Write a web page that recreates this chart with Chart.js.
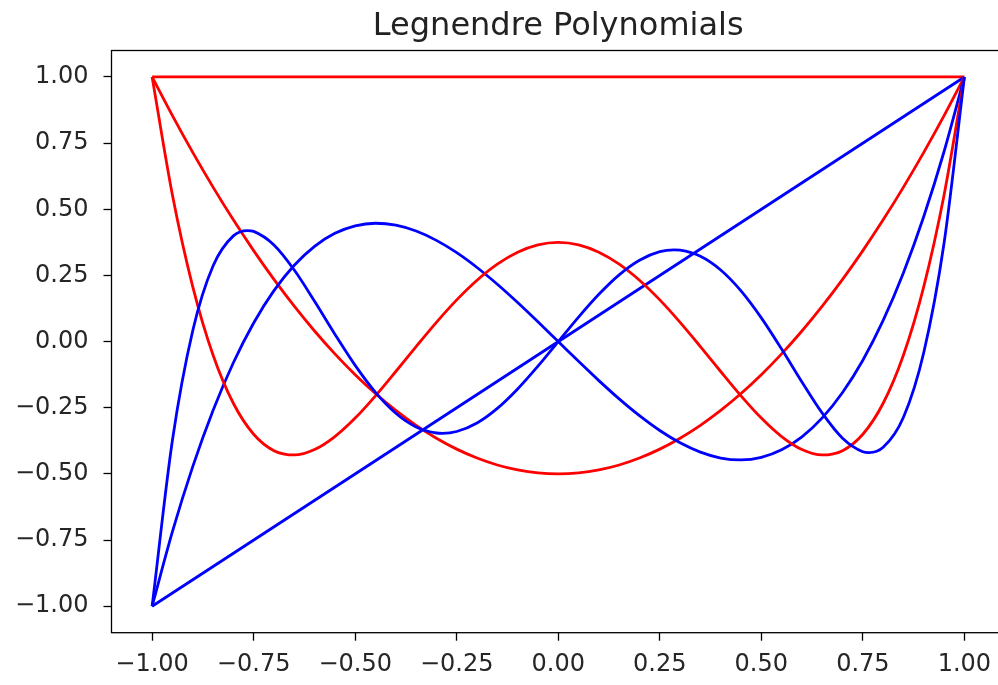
<!DOCTYPE html>
<html>
<head>
<meta charset="utf-8">
<script src="https://cdn.jsdelivr.net/npm/chart.js@4"></script>
<style>
  html, body { margin: 0; padding: 0; background: #fff; overflow: hidden; }
  #wrap { position: relative; width: 1010px; height: 685px; }
</style>
</head>
<body>
<div id="wrap"><canvas id="legendreChart"></canvas></div>
<script>
// x positions the curves were read at
const xValues = [-1.00, -0.95, -0.90, -0.85, -0.80, -0.75, -0.70, -0.65, -0.60, -0.55, -0.50,
    -0.45, -0.40, -0.35, -0.30, -0.25, -0.20, -0.15, -0.10, -0.05, 0.00,
    0.05, 0.10, 0.15, 0.20, 0.25, 0.30, 0.35, 0.40, 0.45, 0.50,
    0.55, 0.60, 0.65, 0.70, 0.75, 0.80, 0.85, 0.90, 0.95, 1.00];

// P5 also read at its turning points
const p5x = [-1.00, -0.95, -0.90, -0.85, -0.80, -0.765, -0.75, -0.70, -0.65, -0.60, -0.55, -0.50,
    -0.45, -0.40, -0.35, -0.30, -0.285, -0.25, -0.20, -0.15, -0.10, -0.05, 0.00,
    0.05, 0.10, 0.15, 0.20, 0.25, 0.285, 0.30, 0.35, 0.40, 0.45, 0.50,
    0.55, 0.60, 0.65, 0.70, 0.75, 0.765, 0.80, 0.85, 0.90, 0.95, 1.00];

const p0x = [-1, 1];
const p0 = [1, 1];
const p1x = [-1, 1];
const p1 = [-1, 1];

const p2 = [1, 0.8538, 0.715, 0.5838, 0.46, 0.3438, 0.235, 0.1338, 0.04, -0.0463, -0.125,
    -0.1963, -0.26, -0.3163, -0.365, -0.4063, -0.44, -0.4663, -0.485, -0.4963, -0.5,
    -0.4963, -0.485, -0.4663, -0.44, -0.4063, -0.365, -0.3163, -0.26, -0.1963, -0.125,
    -0.0463, 0.04, 0.1338, 0.235, 0.3438, 0.46, 0.5838, 0.715, 0.8538, 1];

const p3 = [-1, -0.7184, -0.4725, -0.2603, -0.08, 0.0703, 0.1925, 0.2884, 0.36, 0.4091, 0.4375,
    0.4472, 0.44, 0.4178, 0.3825, 0.3359, 0.28, 0.2166, 0.1475, 0.0747, 0,
    -0.0747, -0.1475, -0.2166, -0.28, -0.3359, -0.3825, -0.4178, -0.44, -0.4472, -0.4375,
    -0.4091, -0.36, -0.2884, -0.1925, -0.0703, 0.08, 0.2603, 0.4725, 0.7184, 1];

const p4 = [1, 0.5541, 0.2079, -0.0506, -0.233, -0.3501, -0.4121, -0.4284, -0.408, -0.359, -0.2891,
    -0.205, -0.113, -0.0187, 0.0729, 0.1577, 0.232, 0.2928, 0.3379, 0.3657, 0.375,
    0.3657, 0.3379, 0.2928, 0.232, 0.1577, 0.0729, -0.0187, -0.113, -0.205, -0.2891,
    -0.359, -0.408, -0.4284, -0.4121, -0.3501, -0.233, -0.0506, 0.2079, 0.5541, 1];

const p5 = [-1, -0.3727, 0.0411, 0.2857, 0.3995, 0.4196, 0.4164, 0.3652, 0.2705, 0.1526, 0.0282, -0.0898,
    -0.1917, -0.2706, -0.3225, -0.3454, -0.3466, -0.3397, -0.3075, -0.2523, -0.1788, -0.0927, 0,
    0.0927, 0.1788, 0.2523, 0.3075, 0.3397, 0.3466, 0.3454, 0.3225, 0.2706, 0.1917, 0.0898,
    -0.0282, -0.1526, -0.2705, -0.3652, -0.4164, -0.4196, -0.3995, -0.2857, -0.0411, 0.3727, 1];

const xTicks = [-1.00, -0.75, -0.50, -0.25, 0.00, 0.25, 0.50, 0.75, 1.00];
const yTicks = [-1.00, -0.75, -0.50, -0.25, 0.00, 0.25, 0.50, 0.75, 1.00];

const TITLE = "Legnendre Polynomials";
const RED = "#ff0000";
const BLUE = "#0000ff";
const FONT = "'DejaVu Sans', sans-serif";

function points(xs, ys) {
    return ys.map((y, i) => ({ x: xs[i], y: y }));
}

function fmt(v) {
    return (v < 0 ? "\u2212" : "") + Math.abs(v).toFixed(2);
}

function curve(xs, ys, color, order) {
    return {
        data: points(xs, ys),
        borderColor: color,
        borderWidth: 2.8,
        pointRadius: 0,
        fill: false,
        cubicInterpolationMode: "monotone",
        order: order
    };
}

// matplotlib-style frame round the plot area, title centred over the axes
const frame = {
    id: "frame",
    afterDatasetsDraw(chart) {
        const a = chart.chartArea;
        const ctx = chart.ctx;
        ctx.save();
        ctx.strokeStyle = "#000";
        ctx.lineWidth = 1.3;
        ctx.strokeRect(a.left, a.top, a.right - a.left, a.bottom - a.top);
        ctx.fillStyle = "#222";
        ctx.font = "32px " + FONT;
        ctx.textAlign = "center";
        ctx.textBaseline = "alphabetic";
        ctx.fillText(TITLE, (a.left + a.right) / 2, 35);
        ctx.restore();
    }
};

new Chart(document.getElementById("legendreChart"), {
    type: "line",
    data: {
        datasets: [
            curve(p0x, p0, RED, 5),
            curve(p1x, p1, BLUE, 4),
            curve(xValues, p2, RED, 3),
            curve(xValues, p3, BLUE, 2),
            curve(xValues, p4, RED, 1),
            curve(p5x, p5, BLUE, 0)
        ]
    },
    options: {
        responsive: true,
        maintainAspectRatio: false,
        animation: false,
        layout: { padding: { left: 0, right: 5, top: 50.5, bottom: 0 } },
        plugins: {
            legend: { display: false },
            tooltip: { enabled: false },
            title: { display: false }
        },
        scales: {
            x: {
                type: "linear",
                min: -1.1,
                max: 1.1,
                afterBuildTicks: s => { s.ticks = xTicks.map(v => ({ value: v })); },
                afterFit: s => { s.height = 52.3; },
                grid: { display: true, drawOnChartArea: false, drawTicks: true, tickLength: 8, tickWidth: 1.3, tickColor: "#000" },
                border: { display: false },
                ticks: {
                    color: "#262626",
                    padding: 10,
                    maxRotation: 0,
                    font: { family: FONT, size: 24 },
                    callback: v => fmt(v)
                }
            },
            y: {
                type: "linear",
                min: -1.1,
                max: 1.1,
                afterBuildTicks: s => { s.ticks = yTicks.map(v => ({ value: v })); },
                afterFit: s => { s.width = 111.5; },
                grid: { display: true, drawOnChartArea: false, drawTicks: true, tickLength: 8, tickWidth: 1.3, tickColor: "#000" },
                border: { display: false },
                ticks: {
                    color: "#262626",
                    padding: 15,
                    font: { family: FONT, size: 24 },
                    callback: v => fmt(v)
                }
            }
        }
    },
    plugins: [frame]
});
</script>
</body>
</html>
